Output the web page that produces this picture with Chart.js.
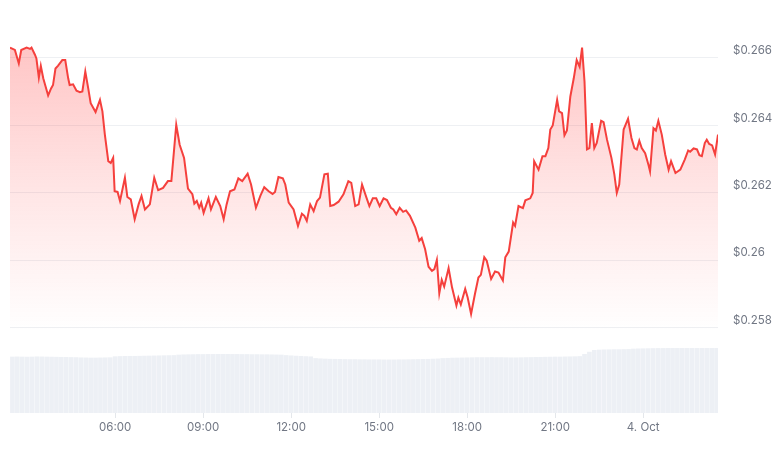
<!DOCTYPE html>
<html>
<head>
<meta charset="utf-8">
<script src="https://cdn.jsdelivr.net/npm/chart.js@4.4.1/dist/chart.umd.min.js"></script>
<style>
  html, body { margin: 0; padding: 0; background: #fff; }
  canvas { display: block; }
</style>
</head>
<body>
<canvas id="priceChart" width="776" height="450"></canvas>
<script>
// time = minutes after 00:00 on 3 Oct
const times = [145,155,163,168,179,186,189,196,199,204,208,213,223,229,233,238,243,252,258,264,267,274,281,288,293,299,305,310,320,329,334,339,346,351,356,359,365,370,380,385,392,400,408,414,421,431,440,448,458,468,475,485,492,501,509,518,522,527,532,536,541,551,556,566,575,582,588,595,604,612,620,631,638,648,657,665,674,682,687,694,703,708,715,725,734,742,747,752,759,766,773,779,788,795,800,807,817,827,837,843,851,858,865,874,880,887,894,901,909,916,924,929,935,942,949,955,963,974,982,987,994,1001,1008,1013,1018,1023,1028,1033,1042,1049,1058,1062,1067,1076,1081,1088,1096,1103,1108,1115,1120,1129,1137,1144,1153,1158,1165,1174,1178,1185,1194,1199,1209,1214,1217,1226,1234,1240,1246,1250,1255,1264,1268,1274,1279,1284,1291,1298,1304,1310,1315,1320,1325,1330,1335,1340,1345,1354,1359,1366,1375,1381,1386,1391,1400,1409,1416,1422,1427,1432,1437,1444,1451,1454,1461,1466,1471,1478,1485,1492,1497,1506,1516,1525,1532,1536,1543,1550,1555,1560,1566,1570,1575,1581,1587,1593];

const prices = [0.26630,0.26623,0.26583,0.26623,0.26630,0.26626,0.26630,0.26609,0.26598,0.26541,0.26576,0.26539,0.26488,0.26509,0.26519,0.26568,0.26576,0.26593,0.26593,0.26539,0.26519,0.26521,0.26502,0.26498,0.26500,0.26559,0.26509,0.26465,0.26439,0.26475,0.26441,0.26372,0.26293,0.26288,0.26303,0.26204,0.26202,0.26175,0.26244,0.26187,0.26180,0.26121,0.26165,0.26190,0.26150,0.26165,0.26244,0.26207,0.26214,0.26234,0.26234,0.26401,0.26342,0.26303,0.26212,
  0.26195,0.26167,0.26175,0.26155,0.26170,0.26140,0.26183,0.26150,0.26187,0.26160,0.26121,0.26165,0.26204,0.26209,0.26242,0.26234,0.26256,0.26224,0.26155,0.26190,0.26216,0.26204,0.26196,0.26202,0.26246,0.26242,0.26224,0.26170,0.26150,0.26101,0.26137,0.26131,0.26116,0.26165,0.26145,0.26175,0.26185,0.26254,0.26256,0.26160,0.26163,0.26173,0.26195,0.26234,0.26229,0.26160,0.26165,0.26224,
  0.26185,0.26160,0.26183,0.26183,0.26160,0.26183,0.26178,0.26155,0.26150,0.26136,0.26155,0.26143,0.26147,0.26131,0.26096,0.26057,0.26065,0.26032,0.25980,0.25968,0.25973,0.26000,0.25901,0.25941,0.25921,0.25976,0.25919,0.25865,0.25888,0.25868,0.25914,0.25889,0.25840,0.25900,0.25948,0.25956,0.26008,0.25998,0.25944,0.25966,0.25963,0.25939,0.26008,0.26025,0.26111,0.26101,0.26160,0.26154,0.26177,0.26183,0.26199,0.26293,0.26268,
  0.26308,0.26308,0.26332,0.26387,0.26399,0.26475,0.26441,0.26436,0.26370,0.26384,0.26485,0.26539,0.26593,0.26573,0.26630,0.26529,0.26328,0.26332,0.26406,0.26332,0.26347,0.26413,0.26409,0.26357,0.26303,0.26254,0.26199,0.26224,0.26387,0.26419,0.26362,0.26332,0.26328,0.26354,0.26332,0.26317,0.26281,0.26263,0.26391,0.26384,0.26413,0.26372,0.26313,0.26268,0.26293,0.26258,0.26268,0.26298,0.26325,0.26321,0.26331,0.26328,0.26311,0.26308,0.26347,0.26357,0.26344,0.26340,0.26313,0.26372];

const volTimes = [150,160,170,180,190,200,210,220,230,240,250,260,270,280,290,300,310,320,330,340,350,360,370,380,390,400,410,420,430,440,450,460,470,480,490,500,510,520,530,540,550,560,570,580,590,600,610,620,630,640,650,660,670,680,690,700,710,720,730,740,750,760,770,780,790,800,810,820,830,840,850,860,870,880,890,900,910,920,930,940,950,960,970,980,990,1000,1010,1020,1030,1040,1050,1060,1070,1080,1090,1100,1110,1120,1130,1140,1150,1160,1170,1180,1190,1200,1210,1220,1230,1240,1250,1260,1270,1280,1290,1300,1310,1320,1330,1340,1350,1360,1370,1380,1390,1400,1410,1420,1430,1440,1450,1460,1470,1480,1490,1500,1510,1520,1530,1540,1550,1560,1570,1580,1590];

// volume, millions
const volumes = [563,564,563,562,563,565,564,563,562,561,560,559,558,557,
  555,554,553,553,554,555,556,
  566,568,569,570,570,571,572,573,574,575,576,577,578,
  583,585,586,587,588,588,589,589,590,590,590,589,589,588,588,587,587,586,586,585,584,583,
  578,575,572,570,567,565,
  548,545,543,541,540,539,538,537,537,536,536,535,535,535,534,534,534,535,535,536,537,538,539,540,542,544,
  548,550,552,553,554,555,556,557,557,557,558,557,557,556,555,555,556,557,558,
  559,560,561,562,563,563,564,565,566,568,
  590,612,
  630,633,635,636,637,637,638,639,
  643,645,646,647,648,649,649,650,650,650,650,650,650,650,650,650,650,650];

const tickTimes = [360, 540, 720, 900, 1080, 1260, 1440];
const tickLabels = ['06:00', '09:00', '12:00', '15:00', '18:00', '21:00', '4. Oct'];
const priceTicks = [0.258, 0.26, 0.262, 0.264, 0.266];

const labelColor = '#717784';
const labelFont = { family: 'Inter', size: 11.5 };

const chart = new Chart(document.getElementById('priceChart'), {
  data: {
    datasets: [{
      type: 'line',
      data: times.map((t, i) => ({ x: t, y: prices[i] })),
      borderColor: '#f5403d',
      borderWidth: 2,
      pointRadius: 0,
      tension: 0,
      fill: 'start',
      backgroundColor: function (c) {
        const area = c.chart.chartArea;
        if (!area) return 'rgba(255,59,59,0.2)';
        const bottom = c.chart.scales.y.getPixelForValue(0.258) + 4;
        const g = c.chart.ctx.createLinearGradient(0, area.top, 0, bottom);
        g.addColorStop(0, 'rgba(255,59,59,0.32)');
        g.addColorStop(0.55, 'rgba(255,59,59,0.13)');
        g.addColorStop(1, 'rgba(255,59,59,0)');
        return g;
      },
      yAxisID: 'y',
      order: 1
    }, {
      type: 'bar',
      data: volTimes.map((t, i) => ({ x: t, y: volumes[i] })),
      backgroundColor: '#edf0f5',
      barThickness: 4,
      yAxisID: 'y2',
      order: 2
    }]
  },
  options: {
    responsive: false,
    animation: false,
    devicePixelRatio: 1,
    layout: { padding: { left: 10, top: 20, right: 0, bottom: 0 } },
    plugins: { legend: { display: false }, tooltip: { enabled: false } },
    scales: {
      x: {
        type: 'linear',
        offset: false,
        min: 145,
        max: 1593,
        afterBuildTicks: s => { s.ticks = tickTimes.map(v => ({ value: v })); },
        afterFit: s => { s.height = 37; },
        ticks: {
          callback: v => tickLabels[tickTimes.indexOf(v)],
          autoSkip: false,
          maxRotation: 0,
          color: labelColor,
          font: labelFont,
          padding: 3
        },
        grid: { offset: false, drawOnChartArea: false, drawTicks: true, tickLength: 5, color: '#e4e7eb' },
        border: { display: false }
      },
      y: {
        position: 'right',
        min: 0.2554617,
        max: 0.2670627,
        afterBuildTicks: s => { s.ticks = priceTicks.map(v => ({ value: v })); },
        afterFit: s => { s.width = 58; },
        ticks: {
          callback: v => '$' + v,
          color: labelColor,
          font: labelFont,
          padding: 15,
          labelOffset: -7
        },
        grid: { color: '#eef0f3', drawTicks: false },
        border: { display: false }
      },
      y2: {
        display: false,
        min: 0,
        max: 3930
      }
    }
  }
});
</script>
</body>
</html>
